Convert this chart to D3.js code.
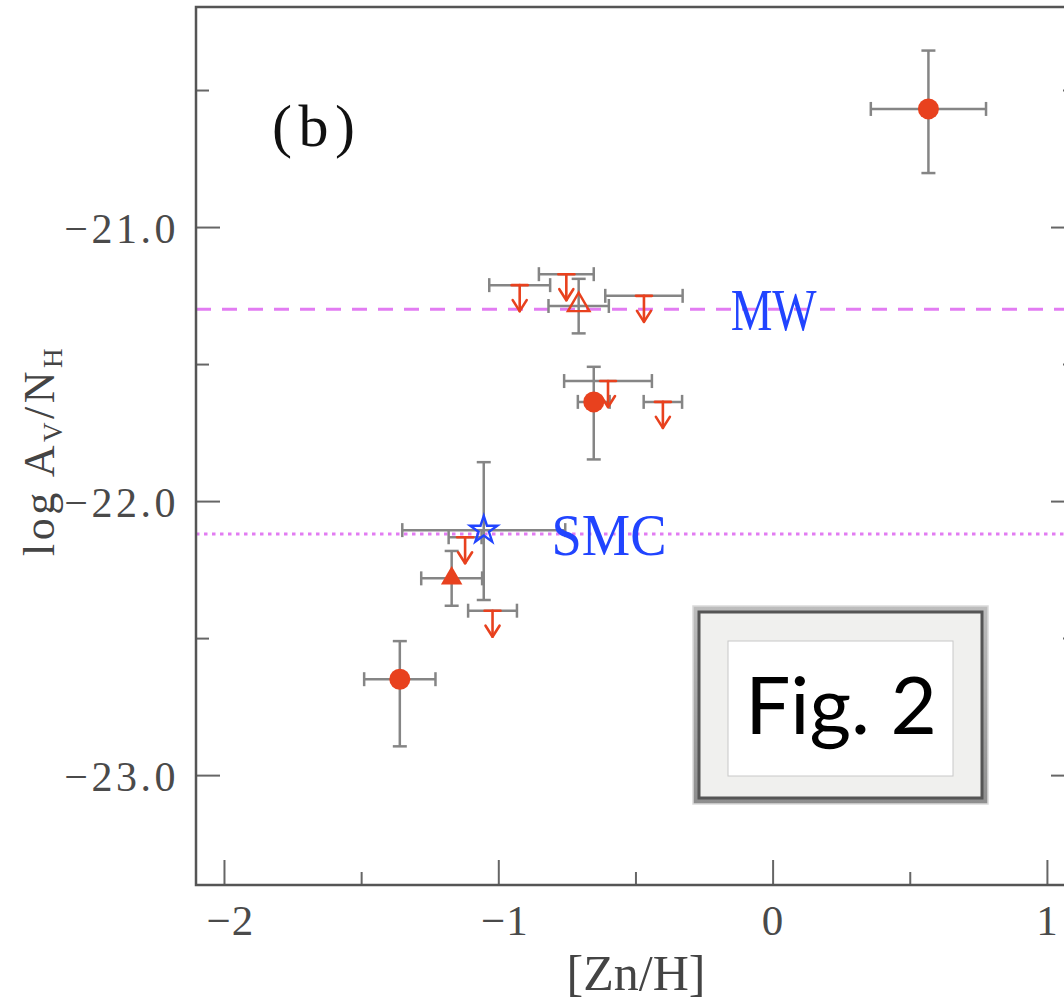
<!DOCTYPE html>
<html><head><meta charset="utf-8">
<script src="https://cdn.jsdelivr.net/npm/d3@7"></script>
<style>
html,body{margin:0;padding:0;background:#fff;}
svg{display:block;}
</style></head>
<body>
<svg id="c" width="1064" height="1000"></svg>
<script>
// ---- data ----
// filled circles (detections)
const circX = [0.568, -1.359, -0.652];
const circY = [-20.569, -22.650, -21.638];
const circXErr = [0.210, 0.130, 0.058];
const circYErrUp = [0.213, 0.139, 0.128];
const circYErrDn = [0.234, 0.245, 0.210];
// filled triangle
const triX = [-1.170];
const triY = [-22.282];
const triXErr = [0.111];
const triYErrUp = [0.100];
const triYErrDn = [0.100];
// open triangle
const otriX = [-0.707];
const otriY = [-21.288];
const otriXErr = [0.110];
const otriYErrUp = [0.099];
const otriYErrDn = [0.100];
// open star (blue)
const starX = [-1.053];
const starY = [-22.106];
const starXErr = [0.297];
const starYErrUp = [0.248];
const starYErrDn = [0.255];
// upper limits
const limX = [-0.922, -0.752, -0.469, -0.600, -0.400, -1.121, -1.021];
const limY = [-21.212, -21.172, -21.251, -21.562, -21.638, -22.132, -22.400];
const limXErr = [0.111, 0.100, 0.141, 0.160, 0.070, 0.060, 0.089];
// reference levels
const refNames = ["MW", "SMC"];
const refY = [-21.30, -22.12];
const refLabelX = [-0.153, -0.806];
// ticks
const xMajorTicks = [-2, -1, 0, 1];
const xTickLabels = ["\u22122", "\u22121", "0", "1"];
const xMinorTicks = [-1.5, -0.5, 0.5];
const yMajorTicks = [-21, -22, -23];
const yTickLabels = ["\u221221.0", "\u221222.0", "\u221223.0"];
const yMinorTicks = [-20.5, -21.5, -22.5];

// ---- layout ----
const L = 196, R = 1076, T = 7, B = 885;
const x = d3.scaleLinear().domain([-2.102, 1.106]).range([L, R]);
const y = d3.scaleLinear().domain([-23.401, -20.197]).range([B, T]);

const svg = d3.select("#c");
const red = "#e8411e", gray = "#858585", violet = "#e27cf2", blue = "#2144ff";
const serif = "'Liberation Serif', 'DejaVu Serif', serif";

// reference lines
svg.append("line").attr("x1", L).attr("x2", R).attr("y1", y(refY[0])).attr("y2", y(refY[0]))
  .attr("stroke", violet).attr("stroke-width", 3).attr("stroke-dasharray", "15 11");
svg.append("line").attr("x1", L).attr("x2", R).attr("y1", y(refY[1])).attr("y2", y(refY[1]))
  .attr("stroke", violet).attr("stroke-width", 3).attr("stroke-dasharray", "3.5 4.5");

// axes (ticks inward)
function styleAxis(g){
  g.select(".domain").remove();
  g.selectAll(".tick line").attr("stroke", "#666").attr("stroke-width", 2);
}
svg.append("g").attr("transform", `translate(0,${B})`)
  .call(d3.axisBottom(x).tickValues(xMajorTicks).tickSize(-25).tickPadding(0)
    .tickFormat((d,i)=>xTickLabels[i]))
  .call(styleAxis)
  .call(g=>g.selectAll(".tick text").attr("y", 50).attr("dy", 0)
    .attr("dx", d => d < 0 ? 6 : 0)
    .attr("font-family", serif).attr("font-size", 43).attr("fill", "#4a4a4a")
    .attr("letter-spacing", 1));
svg.append("g").attr("transform", `translate(0,${B})`)
  .call(d3.axisBottom(x).tickValues(xMinorTicks).tickSize(-13).tickFormat(""))
  .call(styleAxis);
svg.append("g").attr("transform", `translate(${L},0)`)
  .call(d3.axisLeft(y).tickValues(yMajorTicks).tickSize(-24).tickPadding(0)
    .tickFormat((d,i)=>yTickLabels[i]))
  .call(styleAxis)
  .call(g=>g.selectAll(".tick text").attr("x", -17).attr("dy", "0.36em")
    .attr("font-family", serif).attr("font-size", 42).attr("fill", "#4a4a4a")
    .attr("letter-spacing", 3.5));
svg.append("g").attr("transform", `translate(${L},0)`)
  .call(d3.axisLeft(y).tickValues(yMinorTicks).tickSize(-13).tickFormat(""))
  .call(styleAxis);
svg.append("g").attr("transform", `translate(${R},0)`)
  .call(d3.axisRight(y).tickValues(yMajorTicks).tickSize(-25).tickFormat(""))
  .call(styleAxis);
svg.append("g").attr("transform", `translate(${R},0)`)
  .call(d3.axisRight(y).tickValues(yMinorTicks).tickSize(-13).tickFormat(""))
  .call(styleAxis);

// frame
svg.append("rect").attr("x", L).attr("y", T).attr("width", R - L).attr("height", B - T)
  .attr("fill", "none").attr("stroke", "#555").attr("stroke-width", 2.5);

// error bar helper
const eb = svg.append("g").attr("stroke", gray).attr("stroke-width", 2.5).attr("fill", "none");
const cap = 7;
function errBars(xs, ys, xe, yu, yd){
  xs.forEach((xv, i) => {
    const cx = x(xv), cy = y(ys[i]);
    const x0 = x(xv - xe[i]), x1 = x(xv + xe[i]);
    eb.append("line").attr("x1", x0).attr("x2", x1).attr("y1", cy).attr("y2", cy);
    eb.append("line").attr("x1", x0).attr("x2", x0).attr("y1", cy - cap).attr("y2", cy + cap);
    eb.append("line").attr("x1", x1).attr("x2", x1).attr("y1", cy - cap).attr("y2", cy + cap);
    if (yu) {
      const y0 = y(ys[i] + yu[i]), y1 = y(ys[i] - yd[i]);
      eb.append("line").attr("x1", cx).attr("x2", cx).attr("y1", y0).attr("y2", y1);
      eb.append("line").attr("x1", cx - cap).attr("x2", cx + cap).attr("y1", y0).attr("y2", y0);
      eb.append("line").attr("x1", cx - cap).attr("x2", cx + cap).attr("y1", y1).attr("y2", y1);
    }
  });
}
errBars(limX, limY, limXErr, null, null);
errBars(starX, starY, starXErr, starYErrUp, starYErrDn);
errBars(otriX, otriY, otriXErr, otriYErrUp, otriYErrDn);
errBars(triX, triY, triXErr, triYErrUp, triYErrDn);
errBars(circX, circY, circXErr, circYErrUp, circYErrDn);

// upper limit arrows
const arr = svg.append("g").attr("stroke", red).attr("stroke-width", 2.6).attr("fill", "none")
  .attr("stroke-linecap", "round").attr("stroke-linejoin", "round");
limX.forEach((xv, i) => {
  const cx = x(xv), cy = y(limY[i]), tip = cy + 26;
  arr.append("line").attr("x1", cx - 8).attr("x2", cx + 8).attr("y1", cy).attr("y2", cy);
  arr.append("line").attr("x1", cx).attr("x2", cx).attr("y1", cy).attr("y2", tip);
  arr.append("path").attr("d", `M${cx - 7},${tip - 11}L${cx},${tip}L${cx + 7},${tip - 11}`);
});

// symbols
svg.selectAll(".circ").data(circX).join("circle").attr("class", "circ")
  .attr("cx", d => x(d)).attr("cy", (d, i) => y(circY[i])).attr("r", 10.5).attr("fill", red);
svg.selectAll(".tri").data(triX).join("path").attr("class", "tri")
  .attr("d", d3.symbol(d3.symbolTriangle, 200))
  .attr("transform", (d, i) => `translate(${x(d)},${y(triY[i])})`).attr("fill", red);
svg.selectAll(".otri").data(otriX).join("path").attr("class", "otri")
  .attr("d", d3.symbol(d3.symbolTriangle, 200))
  .attr("transform", (d, i) => `translate(${x(d)},${y(otriY[i]) - 1})`)
  .attr("fill", "none").attr("stroke", red).attr("stroke-width", 2.4);
svg.selectAll(".star").data(starX).join("path").attr("class", "star")
  .attr("d", d3.symbol(d3.symbolStar, 230))
  .attr("transform", (d, i) => `translate(${x(d)},${y(starY[i])})`)
  .attr("fill", "none").attr("stroke", blue).attr("stroke-width", 2.4);

// reference labels
const refWidths = [86, 115];
refNames.forEach((n, i) => {
  svg.append("text").attr("x", x(refLabelX[i])).attr("y", y(refY[i]) + 21)
    .attr("font-family", serif).attr("font-size", 60).attr("fill", blue)
    .attr("textLength", refWidths[i]).attr("lengthAdjust", "spacingAndGlyphs")
    .text(n);
});

// panel label
svg.append("text").attr("x", 272).attr("y", 146).attr("font-family", serif)
  .attr("font-size", 60).attr("fill", "#111")
  .attr("textLength", 83).attr("lengthAdjust", "spacing").text("(b)");

// axis titles
svg.append("text").attr("x", 636).attr("y", 990).attr("text-anchor", "middle")
  .attr("font-family", serif).attr("font-size", 50).attr("fill", "#444").text("[Zn/H]");
const yt = svg.append("text").attr("transform", "translate(54,556) rotate(-90)")
  .attr("text-anchor", "start").attr("font-family", serif).attr("font-size", 44)
  .attr("fill", "#444").attr("letter-spacing", 3.5);
yt.append("tspan").text("log A");
yt.append("tspan").attr("font-size", 27).attr("dy", 8).text("V");
yt.append("tspan").attr("dy", -8).text("/N");
yt.append("tspan").attr("font-size", 27).attr("dy", 8).text("H");

// Fig. 2 framed box
const fb = svg.append("g");
const defs = svg.append("defs");
const lg = defs.append("linearGradient").attr("id", "fr").attr("x1", 0).attr("y1", 0).attr("x2", 0).attr("y2", 1);
lg.append("stop").attr("offset", 0).attr("stop-color", "#bdbdbd");
lg.append("stop").attr("offset", 1).attr("stop-color", "#8e8e8e");
fb.append("rect").attr("x", 693).attr("y", 606).attr("width", 295).attr("height", 198)
  .attr("fill", "url(#fr)").attr("stroke", "#dadada").attr("stroke-width", 1.5);
fb.append("rect").attr("x", 699).attr("y", 612).attr("width", 283).attr("height", 186)
  .attr("fill", "#f0f0ee").attr("stroke", "#555").attr("stroke-width", 3);
fb.append("rect").attr("x", 728).attr("y", 641).attr("width", 225).attr("height", 135)
  .attr("fill", "#fff").attr("stroke", "#c8c8c8").attr("stroke-width", 1);
fb.append("text").attr("x", 841).attr("y", 734).attr("text-anchor", "middle")
  .attr("font-family", "Lato, 'Open Sans', sans-serif").attr("font-size", 80)
  .attr("fill", "#000").text("Fig. 2");
</script>
</body></html>
